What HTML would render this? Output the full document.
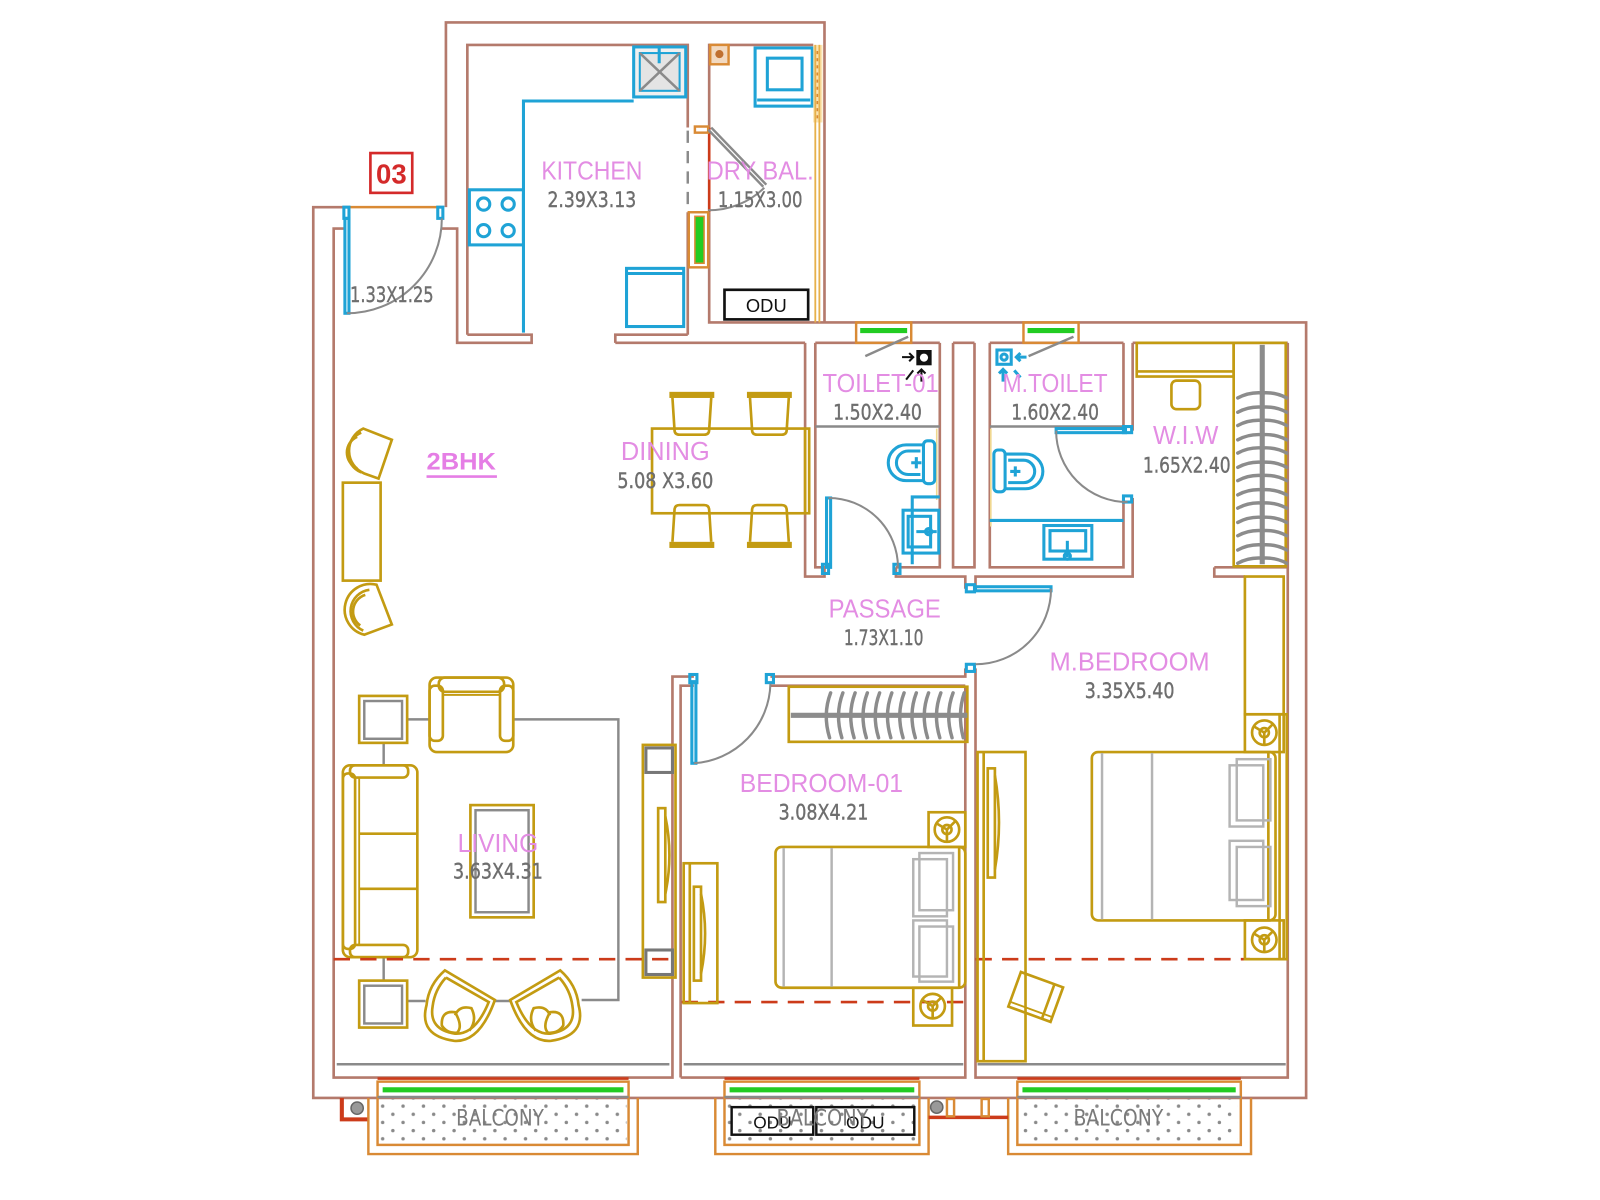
<!DOCTYPE html>
<html><head><meta charset="utf-8"><style>
html,body{margin:0;padding:0;background:#fff;}
svg{display:block}
.w{stroke:#b47a6c;stroke-width:2.6;fill:none}
.c{stroke:#1fa3d6;stroke-width:3;fill:none}
.g{stroke:#c39b12;stroke-width:2.6;fill:none}
.gr{stroke:#8a8a8a;stroke-width:2.4;fill:none}
.lg{stroke:#b4b4b4;stroke-width:2.4;fill:none}
.o{stroke:#d98a35;stroke-width:2.4;fill:none}
.r{stroke:#cc3b1a;stroke-width:2.6;fill:none}
.d{stroke:#8a8a8a;stroke-width:2;fill:none}
.lbl{font-family:"Liberation Sans",sans-serif;fill:#e38de3;font-size:25px}
.dim{font-family:"DejaVu Sans","Liberation Sans",sans-serif;fill:#6e6e6e;stroke:#6e6e6e;stroke-width:0.4;font-size:21px}
.hg{stroke:#8c8c8c;stroke-width:3.4;fill:none;stroke-linecap:round}
</style></head><body>
<svg width="1600" height="1200" viewBox="0 0 1568 1176" xmlns="http://www.w3.org/2000/svg">
<defs>
<pattern id="dots" width="20" height="16" patternUnits="userSpaceOnUse">
<circle cx="5" cy="4" r="1.7" fill="#8a8a8a"/><circle cx="15" cy="12" r="1.7" fill="#8a8a8a"/>
</pattern>
</defs>

<!-- ===== WALLS ===== -->
<g class="w">
<!-- kitchen / dry bal outer -->
<path d="M437,203 V22 H808 V316"/>
<!-- kitchen inner -->
<path d="M458,328 V44 H674 V125 M674,208 V328"/>
<path d="M458,328 H521 V336 H448 V224 H432"/>
<path d="M603,336 V328 H674"/>
<!-- dry balcony -->
<path d="M695,125 V44 H797 M695,208 V316 H808"/>
<!-- main outer -->
<path d="M808,316 H1280 V1076 H307 V203 H338"/>
<!-- left inner -->
<path d="M338,224 H327 V1056 H659 V663 H680"/>
<path d="M667,1056 V672 H680"/>
<path d="M755,663 H946 V655 M755,672 H946"/>
<path d="M667,1056 H946 V672 M956,655 V1056 H1262 V336"/>
<!-- top inner -->
<path d="M603,336 H789 M799,336 H921 M934,336 H955 M970,336 H1101 M1110,336 H1262"/>
<!-- toilet 01 -->
<path d="M789,336 V565 H808 V556 H799 V336"/>
<path d="M878,556 H921 V336 M878,556 V565 H946 V577"/>
<path d="M934,336 V556 H955 V336"/>
<!-- M toilet -->
<path d="M970,336 V556 H1101 V488 M1101,422 V336"/>
<path d="M1110,336 V422 M1110,488 V565 H956 V577"/>
<!-- WIW bottom -->
<path d="M1190,556 H1262 M1190,556 V565 H1220"/>
</g>

<!-- entry top orange -->
<line x1="338" y1="203" x2="432" y2="203" class="o" stroke-width="3"/>
<rect x="337" y="203" width="5" height="11" class="c" stroke-width="2"/>
<rect x="429" y="203" width="5" height="11" class="c" stroke-width="2"/>
<!-- entry door -->
<rect x="338" y="214" width="4" height="93" class="c" stroke-width="2.4"/>
<path d="M340,307 A93 93 0 0 0 433,214" class="d"/>

<!-- 03 box -->
<rect x="363" y="150" width="41" height="39" fill="none" stroke="#d42a2a" stroke-width="2.6"/>
<text x="383.5" y="180" text-anchor="middle" font-family="Liberation Sans,sans-serif" font-weight="bold" font-size="27" fill="#d42a2a">03</text>

<!-- ===== KITCHEN ===== -->
<path d="M513,326 V99 H621" class="c"/>
<rect x="621" y="46" width="51" height="49" fill="#f0f0f0" stroke="#1fa3d6" stroke-width="3"/>
<rect x="627" y="52" width="39" height="37" fill="#e4e4e4" stroke="#1fa3d6" stroke-width="2"/>
<path d="M627,52 L666,89 M666,52 L627,89" class="gr" stroke-width="1.8"/>
<line x1="646" y1="46" x2="646" y2="62" class="c" stroke-width="2.5"/>
<rect x="460" y="186" width="53" height="54" class="c"/>
<g class="c" stroke-width="2.4">
<circle cx="474" cy="200" r="6"/><circle cx="498" cy="200" r="6"/>
<circle cx="474" cy="226" r="6"/><circle cx="498" cy="226" r="6"/>
</g>
<line x1="513" y1="190" x2="513" y2="236" class="c" stroke-width="4"/>
<rect x="614" y="263" width="56" height="57" class="c"/>
<line x1="614" y1="268" x2="670" y2="268" class="c" stroke-width="2"/>

<!-- ===== DRY BAL ===== -->
<rect x="696" y="44" width="18" height="19" fill="#f2d9c0" stroke="#d98a35" stroke-width="2.4"/>
<circle cx="705" cy="53" r="4" fill="#c07030"/>
<rect x="740" y="47" width="56" height="57" class="c"/>
<rect x="752" y="57" width="34" height="31" class="c"/>
<line x1="742" y1="98" x2="794" y2="98" class="c" stroke-width="2"/>
<rect x="797" y="44" width="9" height="76" fill="#fbe3b0"/>
<line x1="799" y1="44" x2="799" y2="316" stroke="#e6b04a" stroke-width="1.8"/>
<line x1="803" y1="44" x2="803" y2="316" stroke="#e6b04a" stroke-width="1.8"/>
<line x1="801" y1="50" x2="801" y2="118" stroke="#d98a35" stroke-width="1.6" stroke-dasharray="3,4"/>
<line x1="674" y1="128" x2="674" y2="205" stroke="#8a8a8a" stroke-width="2.4" stroke-dasharray="12,8"/>
<line x1="695" y1="125" x2="695" y2="208" class="r"/>
<rect x="681" y="124" width="13" height="6" class="o" stroke-width="2"/>
<rect x="675" y="208" width="19" height="54" class="o" stroke-width="2" stroke="#d05a2a"/>
<rect x="681" y="212" width="9" height="46" fill="#22cc22" stroke="#d98a35" stroke-width="1.5"/>
<path d="M694,127 L748,183 M697,125 L751,181" class="gr" stroke-width="1.6"/>
<path d="M749,184 A77 77 0 0 1 694,206" class="d"/>
<rect x="710" y="284" width="82" height="29" fill="none" stroke="#111" stroke-width="2.6"/>
<text x="751" y="306" text-anchor="middle" font-family="Liberation Sans,sans-serif" font-size="18" fill="#111">ODU</text>

<!-- ===== TOILETS ===== -->
<!-- windows -->
<rect x="839" y="316" width="54" height="20" class="o" stroke="#d05a2a"/>
<line x1="843" y1="324" x2="889" y2="324" stroke="#22cc22" stroke-width="5"/>
<rect x="1003" y="316" width="54" height="20" class="o" stroke="#d05a2a"/>
<line x1="1007" y1="324" x2="1053" y2="324" stroke="#22cc22" stroke-width="5"/>
<path d="M848,349 L890,330 M1008,349 L1052,330" class="gr" stroke-width="3"/>
<line x1="799" y1="418" x2="921" y2="418" class="gr"/>
<line x1="970" y1="418" x2="1101" y2="418" class="gr"/>
<line x1="918" y1="420" x2="918" y2="490" stroke="#f0d890" stroke-width="1.6"/>
<line x1="971" y1="420" x2="971" y2="516" stroke="#f0d890" stroke-width="1.6"/>
<!-- T1 plumbing symbol -->
<rect x="898" y="343" width="15" height="15" fill="#111"/>
<circle cx="905.5" cy="350.5" r="4" fill="#fff"/>
<path d="M884,350 H895 M891,346 L895,350 L891,354 M903,362 V374 M899,366 L903,362 L907,366 M888,372 L895,363" stroke="#111" stroke-width="2" fill="none"/>
<!-- MT plumbing symbol -->
<rect x="977" y="343" width="14" height="14" class="c" stroke-width="2.4"/>
<circle cx="984" cy="350" r="3" class="c" stroke-width="2"/>
<path d="M996,350 H1006 M1000,346 L996,350 L1000,354 M983,362 V374 M979,366 L983,362 L987,366 M994,363 L1000,370" class="c" stroke-width="2"/>
<!-- T1 WC -->
<path d="M905,436 H888 A17.5 17.5 0 0 0 888,471 H905" class="c" stroke-width="3.4"/>
<path d="M902,442 H890 A11.5 11.5 0 0 0 890,465 H902" class="c" stroke-width="2"/>
<rect x="905" y="432" width="11" height="42" rx="4" class="c" stroke-width="3"/>
<path d="M893,453.5 H903 M898,448 V459" class="c" stroke-width="1.8"/>
<!-- T1 basin -->
<path d="M894,553 V487 H921" class="c" stroke-width="2.4"/>
<rect x="885" y="500" width="35" height="42" class="c"/>
<rect x="890" y="506" width="22" height="30" class="c" stroke-width="2"/>
<circle cx="910" cy="521" r="3" class="c" stroke-width="2"/>
<line x1="898" y1="521" x2="918" y2="521" class="c" stroke-width="2"/>
<!-- MT WC -->
<path d="M985,445 H1005 A17 17 0 0 1 1005,479 H985" class="c" stroke-width="3.4"/>
<path d="M988,451 H1003 A11 11 0 0 1 1003,473 H988" class="c" stroke-width="2"/>
<rect x="974" y="441" width="11" height="41" rx="4" class="c" stroke-width="3"/>
<path d="M990,462 H1000 M995,457 V467" class="c" stroke-width="1.8"/>
<!-- MT basin -->
<line x1="970" y1="510" x2="1101" y2="510" class="c" stroke-width="2.4"/>
<rect x="1023" y="515" width="47" height="33" class="c"/>
<rect x="1029" y="520" width="35" height="20" class="c" stroke-width="2"/>
<line x1="1046" y1="530" x2="1046" y2="546" class="c" stroke-width="2"/>
<circle cx="1046" cy="545" r="3" class="c" stroke-width="2"/>
<!-- T1 door -->
<rect x="810" y="488" width="4" height="68" class="c" stroke-width="2.2"/>
<rect x="806" y="553" width="6" height="9" class="c" stroke-width="2"/>
<rect x="876" y="553" width="6" height="9" class="c" stroke-width="2"/>
<path d="M812,488 A68 68 0 0 1 880,556" class="d"/>
<!-- MT door -->
<rect x="1035" y="420" width="68" height="4" class="c" stroke-width="2.2"/>
<rect x="1101" y="418" width="8" height="6" class="c" stroke-width="2"/>
<rect x="1101" y="486" width="8" height="6" class="c" stroke-width="2"/>
<path d="M1035,422 A70 70 0 0 0 1105,492" class="d"/>

<!-- ===== WIW ===== -->
<rect x="1114" y="336" width="95" height="33" class="g"/>
<line x1="1114" y1="364" x2="1209" y2="364" class="g" stroke-width="2"/>
<rect x="1148" y="373" width="28" height="28" rx="5" class="g"/>
<rect x="1209" y="336" width="51" height="219" class="g"/>
<line x1="1237" y1="338" x2="1237" y2="553" stroke="#8c8c8c" stroke-width="5"/>
<g class="hg">
<path d="M1213,390 Q1224,384 1237,385 M1261,390 Q1250,384 1237,385"/>
<path d="M1213,404 Q1224,398 1237,399 M1261,404 Q1250,398 1237,399"/>
<path d="M1213,417 Q1224,411 1237,412 M1261,417 Q1250,411 1237,412"/>
<path d="M1213,431 Q1224,425 1237,426 M1261,431 Q1250,425 1237,426"/>
<path d="M1213,444 Q1224,438 1237,439 M1261,444 Q1250,438 1237,439"/>
<path d="M1213,458 Q1224,452 1237,453 M1261,458 Q1250,452 1237,453"/>
<path d="M1213,471 Q1224,465 1237,466 M1261,471 Q1250,465 1237,466"/>
<path d="M1213,485 Q1224,479 1237,480 M1261,485 Q1250,479 1237,480"/>
<path d="M1213,498 Q1224,492 1237,493 M1261,498 Q1250,492 1237,493"/>
<path d="M1213,512 Q1224,506 1237,507 M1261,512 Q1250,506 1237,507"/>
<path d="M1213,525 Q1224,519 1237,520 M1261,525 Q1250,519 1237,520"/>
<path d="M1213,539 Q1224,533 1237,534 M1261,539 Q1250,533 1237,534"/>
<path d="M1213,552 Q1224,546 1237,547 M1261,552 Q1250,546 1237,547"/>
</g>

<!-- ===== M.BED DOOR ===== -->
<rect x="956" y="575" width="74" height="4" class="c" stroke-width="2.2"/>
<rect x="947" y="573" width="8" height="7" class="c" stroke-width="2"/>
<rect x="947" y="651" width="8" height="7" class="c" stroke-width="2"/>
<path d="M1030,577 A74 74 0 0 1 956,651" class="d"/>

<!-- ===== BEDROOM-01 DOOR ===== -->
<rect x="678" y="668" width="4" height="80" class="c" stroke-width="2.2"/>
<rect x="676" y="661" width="7" height="8" class="c" stroke-width="2"/>
<rect x="751" y="661" width="7" height="8" class="c" stroke-width="2"/>
<path d="M680,748 A80 80 0 0 0 755,670" class="d"/>

<!-- ===== DINING ===== -->
<rect x="639" y="420" width="154" height="83" class="g"/>
<line x1="789" y1="420" x2="789" y2="503" class="g" stroke-width="2"/>
<g class="g">
<path d="M659,390 L661,421 Q661,426 666,426 H690 Q695,426 695,421 L697,390"/>
<path d="M735,390 L737,421 Q737,426 742,426 H766 Q771,426 771,421 L773,390"/>
<path d="M659,531 L661,500 Q661,495 666,495 H690 Q695,495 695,500 L697,531"/>
<path d="M735,531 L737,500 Q737,495 742,495 H766 Q771,495 771,500 L773,531"/>
</g>
<g fill="#c39b12">
<rect x="656" y="384" width="44" height="6"/><rect x="732" y="384" width="44" height="6"/>
<rect x="656" y="531" width="44" height="6"/><rect x="732" y="531" width="44" height="6"/>
</g>

<!-- ===== LIVING LEFT CHAIRS ===== -->
<g class="g">
<path d="M356,420 L384,431 L371,469 L357,464 A24 24 0 0 1 356,420 Z"/>
<path d="M354,424 A21 21 0 0 0 354,463"/>
<path d="M350,428 A17 17 0 0 0 350,459"/>
<rect x="336" y="473" width="37" height="96" />
<path d="M369,573 L384,612 L357,622 A24 24 0 0 1 369,573 Z"/>
<path d="M362,578 A21 21 0 0 0 356,618"/>
<path d="M358,583 A17 17 0 0 0 353,613"/>
</g>
<text x="452" y="460" text-anchor="middle" font-family="Liberation Sans,sans-serif" font-weight="bold" font-size="24" fill="#e57ee5" textLength="68" lengthAdjust="spacingAndGlyphs">2BHK</text>
<line x1="418" y1="467" x2="487" y2="467" stroke="#e57ee5" stroke-width="2.6"/>

<!-- ===== LIVING ===== -->
<path d="M503,705 H606 V980 H570 M399,705 H421 M376,728 V750 M376,938 V961 M399,981 H417 M485,981 H500" class="gr"/>
<rect x="352" y="682" width="47" height="46" class="g"/>
<rect x="357" y="687" width="37" height="37" class="gr"/>
<rect x="352" y="961" width="47" height="46" class="g"/>
<rect x="357" y="966" width="37" height="37" class="gr"/>
<g class="g">
<rect x="421" y="664" width="82" height="73" rx="7"/>
<rect x="430" y="664" width="64" height="14" rx="6"/>
<rect x="421" y="672" width="13" height="54" rx="5"/>
<rect x="490" y="672" width="13" height="54" rx="5"/>
<line x1="434" y1="681" x2="490" y2="681" stroke-width="1.8"/>
<rect x="336" y="750" width="73" height="188" rx="7"/>
<rect x="336" y="758" width="12" height="172" rx="5"/>
<rect x="343" y="750" width="57" height="12" rx="5"/>
<rect x="343" y="926" width="57" height="12" rx="5"/>
<line x1="352" y1="762" x2="352" y2="926" stroke-width="1.8"/>
<line x1="352" y1="817" x2="409" y2="817"/>
<line x1="352" y1="871" x2="409" y2="871"/>
<rect x="461" y="789" width="62" height="110"/>
</g>
<rect x="466" y="794" width="52" height="100" class="gr" stroke-width="2.6"/>
<g class="g">
<path d="M436,951 L485,980 Q470,1022 445,1020 Q410,1015 418,985 Q420,965 436,951 Z"/>
<path d="M437,958 L479,982 Q466,1014 446,1013 Q420,1009 424,986 Q426,970 437,958"/>
<path d="M433,1005 Q432,990 446,992 Q454,1006 448,1012 Q438,1013 433,1005 Z"/>
<path d="M446,995 Q450,985 462,988 Q468,1000 460,1010"/>
<path d="M549,951 L500,980 Q515,1022 540,1020 Q575,1015 567,985 Q565,965 549,951 Z"/>
<path d="M548,958 L506,982 Q519,1014 539,1013 Q565,1009 561,986 Q559,970 548,958"/>
<path d="M552,1005 Q553,990 539,992 Q531,1006 537,1012 Q547,1013 552,1005 Z"/>
<path d="M539,995 Q535,985 523,988 Q517,1000 525,1010"/>
</g>
<!-- TV unit -->
<rect x="630" y="730" width="32" height="228" class="g"/>
<rect x="633" y="733" width="26" height="24" stroke="#777" stroke-width="3" fill="none"/>
<rect x="633" y="931" width="26" height="24" stroke="#777" stroke-width="3" fill="none"/>
<rect x="645" y="792" width="7" height="92" class="g" stroke-width="2"/>
<path d="M652,800 Q660,838 652,876" class="g" stroke-width="2"/>

<!-- red dashed lines -->
<line x1="327" y1="940" x2="658" y2="940" class="r" stroke-dasharray="16,10"/>
<line x1="668" y1="982" x2="946" y2="982" class="r" stroke-dasharray="16,10"/>
<line x1="956" y1="940" x2="1225" y2="940" class="r" stroke-dasharray="16,10"/>
<!-- gray sill lines -->
<line x1="330" y1="1043" x2="656" y2="1043" class="gr"/>
<line x1="670" y1="1043" x2="944" y2="1043" class="gr"/>
<line x1="958" y1="1043" x2="1260" y2="1043" class="gr"/>

<!-- ===== BEDROOM-01 ===== -->
<rect x="773" y="673" width="175" height="54" class="g"/>
<line x1="775" y1="701" x2="948" y2="701" stroke="#8c8c8c" stroke-width="5"/>
<g class="hg">
<path d="M814,679 Q806,700 813,723"/><path d="M826,679 Q818,700 825,723"/>
<path d="M838,679 Q830,700 837,723"/><path d="M850,679 Q842,700 849,723"/>
<path d="M862,679 Q854,700 861,723"/><path d="M874,679 Q866,700 873,723"/>
<path d="M886,679 Q878,700 885,723"/><path d="M898,679 Q890,700 897,723"/>
<path d="M910,679 Q902,700 909,723"/><path d="M922,679 Q914,700 921,723"/>
<path d="M934,679 Q926,700 933,723"/><path d="M945,679 Q938,700 944,723"/>
</g>
<rect x="760" y="830" width="186" height="138" rx="6" class="g"/>
<line x1="768" y1="831" x2="768" y2="967" class="lg"/>
<line x1="815" y1="831" x2="815" y2="967" class="lg"/>
<line x1="940" y1="830" x2="940" y2="968" class="g" stroke-width="2"/>
<rect x="901" y="836" width="33" height="56" class="lg"/>
<rect x="895" y="842" width="33" height="56" class="lg" fill="#fff"/>
<rect x="895" y="902" width="33" height="55" class="lg"/>
<rect x="901" y="908" width="33" height="54" class="lg" fill="#fff"/>
<rect x="910" y="796" width="36" height="34" class="g"/>
<circle cx="928" cy="813" r="12" class="g"/><circle cx="928" cy="813" r="4.5" class="g" stroke-width="2"/>
<path d="M918,807 L928,813 L936,805 M928,813 V825" class="g" stroke-width="1.8"/>
<rect x="895" y="968" width="38" height="37" class="g"/>
<circle cx="914" cy="986" r="12" class="g"/><circle cx="914" cy="986" r="4.5" class="g" stroke-width="2"/>
<path d="M904,980 L914,986 L922,978 M914,986 V998" class="g" stroke-width="1.8"/>
<rect x="670" y="846" width="33" height="137" class="g"/>
<line x1="676" y1="846" x2="676" y2="983" class="g" stroke-width="1.8"/>
<rect x="680" y="869" width="7" height="92" class="g" stroke-width="2"/>
<path d="M687,876 Q695,915 687,954" class="g" stroke-width="2"/>

<!-- ===== M.BEDROOM ===== -->
<rect x="958" y="737" width="47" height="303" class="g"/>
<line x1="964" y1="737" x2="964" y2="1040" class="g" stroke-width="1.8"/>
<rect x="968" y="753" width="7" height="107" class="g" stroke-width="2"/>
<path d="M975,760 Q983,806 975,852" class="g" stroke-width="2"/>
<rect x="1070" y="737" width="180" height="165" rx="6" class="g"/>
<line x1="1080" y1="738" x2="1080" y2="901" class="lg"/>
<line x1="1129" y1="738" x2="1129" y2="901" class="lg"/>
<line x1="1243" y1="737" x2="1243" y2="902" class="g" stroke-width="2"/>
<rect x="1212" y="744" width="33" height="60" class="lg"/>
<rect x="1205" y="750" width="33" height="60" class="lg" fill="#fff"/>
<rect x="1205" y="824" width="33" height="58" class="lg"/>
<rect x="1212" y="830" width="33" height="58" class="lg" fill="#fff"/>
<rect x="1220" y="700" width="38" height="37" class="g"/>
<circle cx="1239" cy="718" r="12" class="g"/><circle cx="1239" cy="718" r="4.5" class="g" stroke-width="2"/>
<path d="M1229,712 L1239,718 L1247,710 M1239,718 V730" class="g" stroke-width="1.8"/>
<rect x="1220" y="902" width="38" height="38" class="g"/>
<circle cx="1239" cy="921" r="12" class="g"/><circle cx="1239" cy="921" r="4.5" class="g" stroke-width="2"/>
<path d="M1229,915 L1239,921 L1247,913 M1239,921 V933" class="g" stroke-width="1.8"/>
<rect x="1220" y="565" width="38" height="135" class="g"/>
<rect x="1254" y="700" width="7" height="240" class="g" stroke-width="2"/>
<g transform="rotate(20 1015 977)" class="g">
<rect x="993" y="959" width="44" height="36"/>
<line x1="1028" y1="959" x2="1028" y2="995"/>
<line x1="993" y1="990" x2="1037" y2="990" stroke-width="1.8"/>
</g>

<!-- ===== BALCONIES ===== -->
<g>
<rect x="372" y="1077" width="242" height="44" fill="url(#dots)"/>
<rect x="712" y="1077" width="186" height="44" fill="url(#dots)"/>
<rect x="999" y="1077" width="214" height="44" fill="url(#dots)"/>
</g>
<g class="o">
<path d="M361,1076 V1131 H625 V1076"/>
<rect x="370" y="1060" width="246" height="62"/>
<path d="M701,1076 V1131 H910 V1076"/>
<rect x="710" y="1060" width="191" height="62"/>
<path d="M988,1076 V1131 H1226 V1076"/>
<rect x="997" y="1060" width="219" height="62"/>
</g>
<g class="r">
<line x1="370" y1="1057" x2="616" y2="1057"/>
<line x1="710" y1="1057" x2="901" y2="1057"/>
<line x1="997" y1="1057" x2="1216" y2="1057"/>
<path d="M360,1097 H335 V1076" stroke-width="4"/>
<line x1="910" y1="1095" x2="988" y2="1095" stroke-width="3.4"/>
</g>
<g stroke="#22cc22" stroke-width="5">
<line x1="375" y1="1068" x2="611" y2="1068"/>
<line x1="715" y1="1068" x2="896" y2="1068"/>
<line x1="1002" y1="1068" x2="1211" y2="1068"/>
</g>
<g class="gr" stroke-width="2">
<line x1="370" y1="1075" x2="616" y2="1075"/>
<line x1="710" y1="1075" x2="901" y2="1075"/>
<line x1="997" y1="1075" x2="1216" y2="1075"/>
</g>
<circle cx="350" cy="1086" r="6" fill="#999" stroke="#666" stroke-width="1.5"/>
<circle cx="918" cy="1085" r="6" fill="#999" stroke="#666" stroke-width="1.5"/>
<rect x="928" y="1077" width="7" height="17" class="o" stroke-width="2"/>
<rect x="962" y="1077" width="7" height="17" class="o" stroke-width="2"/>
<rect x="717" y="1085" width="80" height="27" fill="none" stroke="#111" stroke-width="2.4"/>
<rect x="800" y="1085" width="96" height="27" fill="none" stroke="#111" stroke-width="2.4"/>
<text x="757" y="1106" text-anchor="middle" font-family="Liberation Sans,sans-serif" font-size="17" fill="#111">ODU</text>
<text x="848" y="1106" text-anchor="middle" font-family="Liberation Sans,sans-serif" font-size="17" fill="#111">ODU</text>
<g font-family="DejaVu Sans,Liberation Sans,sans-serif" font-size="22" fill="#7a7a7a" text-anchor="middle">
<text x="490" y="1103" textLength="86" lengthAdjust="spacingAndGlyphs">BALCONY</text>
<text x="806" y="1103" textLength="90" lengthAdjust="spacingAndGlyphs">BALCONY</text>
<text x="1096" y="1103" textLength="88" lengthAdjust="spacingAndGlyphs">BALCONY</text>
</g>

<!-- ===== LABELS ===== -->
<g class="lbl" text-anchor="middle">
<text x="580" y="176" textLength="99" lengthAdjust="spacingAndGlyphs">KITCHEN</text>
<text x="745" y="176" textLength="105" lengthAdjust="spacingAndGlyphs">DRY BAL.</text>
<text x="652" y="451" textLength="87" lengthAdjust="spacingAndGlyphs">DINING</text>
<text x="863" y="384" textLength="114" lengthAdjust="spacingAndGlyphs">TOILET-01</text>
<text x="1034" y="384" textLength="103" lengthAdjust="spacingAndGlyphs">M.TOILET</text>
<text x="1162" y="435" textLength="64" lengthAdjust="spacingAndGlyphs">W.I.W</text>
<text x="867" y="605" textLength="110" lengthAdjust="spacingAndGlyphs">PASSAGE</text>
<text x="1107" y="657" textLength="157" lengthAdjust="spacingAndGlyphs">M.BEDROOM</text>
<text x="805" y="776" textLength="160" lengthAdjust="spacingAndGlyphs">BEDROOM-01</text>
<text x="488" y="835" textLength="79" lengthAdjust="spacingAndGlyphs">LIVING</text>
</g>
<g class="dim" text-anchor="middle">
<text x="580" y="203" textLength="87" lengthAdjust="spacingAndGlyphs">2.39X3.13</text>
<text x="745" y="203" textLength="83" lengthAdjust="spacingAndGlyphs">1.15X3.00</text>
<text x="384" y="296" textLength="82" lengthAdjust="spacingAndGlyphs">1.33X1.25</text>
<text x="652" y="478" textLength="94" lengthAdjust="spacingAndGlyphs">5.08 X3.60</text>
<text x="860" y="411" textLength="87" lengthAdjust="spacingAndGlyphs">1.50X2.40</text>
<text x="1034" y="411" textLength="86" lengthAdjust="spacingAndGlyphs">1.60X2.40</text>
<text x="1163" y="463" textLength="86" lengthAdjust="spacingAndGlyphs">1.65X2.40</text>
<text x="866" y="632" textLength="78" lengthAdjust="spacingAndGlyphs">1.73X1.10</text>
<text x="1107" y="684" textLength="88" lengthAdjust="spacingAndGlyphs">3.35X5.40</text>
<text x="807" y="803" textLength="88" lengthAdjust="spacingAndGlyphs">3.08X4.21</text>
<text x="488" y="861" textLength="88" lengthAdjust="spacingAndGlyphs">3.63X4.31</text>
</g>
</svg>
</body></html>
